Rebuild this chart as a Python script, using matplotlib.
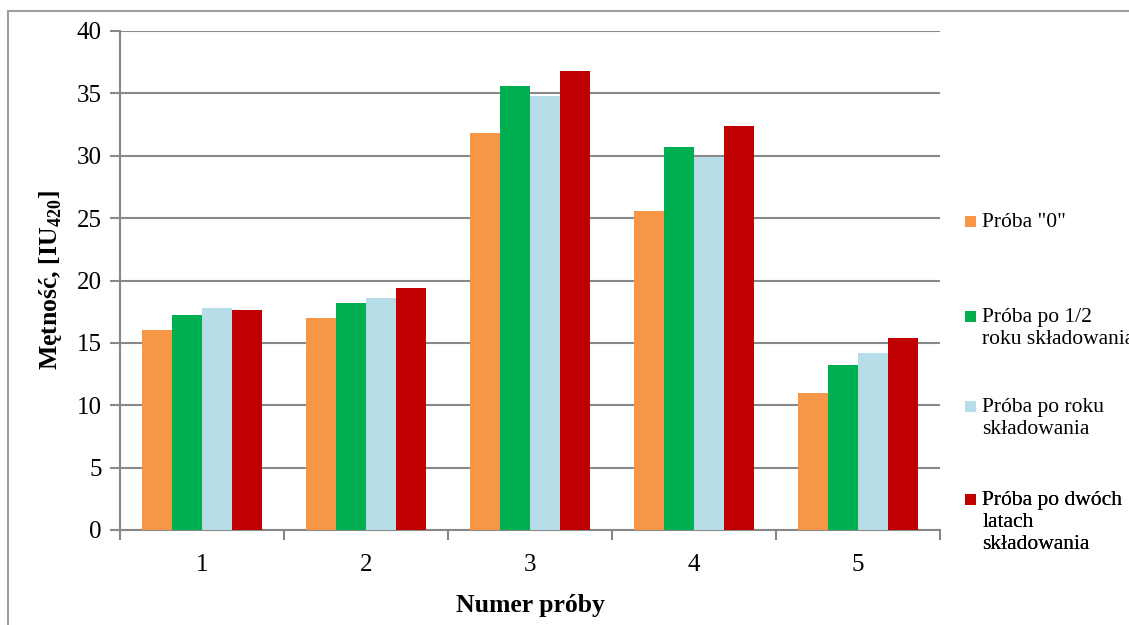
import matplotlib
matplotlib.use("Agg")
import matplotlib.pyplot as plt
from matplotlib.patches import Rectangle
from matplotlib.legend_handler import HandlerPatch
import numpy as np

plt.rcParams['font.family'] = ['Liberation Serif', 'DejaVu Serif']
plt.rcParams['mathtext.fontset'] = 'custom'
plt.rcParams['mathtext.rm'] = 'Liberation Serif'
plt.rcParams['mathtext.bf'] = 'Liberation Serif:bold'

samples = ['1', '2', '3', '4', '5']
series_names = ['Próba "0"', 'Próba po 1/2\nroku składowania',
                'Próba po roku\nskładowania', 'Próba po dwóch\nlatach\nskładowania']
proba_0 = [16.0, 17.0, 31.8, 25.6, 11.0]
po_pol_roku = [17.2, 18.2, 35.6, 30.7, 13.2]
po_roku = [17.8, 18.6, 34.8, 29.9, 14.2]
po_dwoch_latach = [17.6, 19.4, 36.8, 32.4, 15.4]
series = [proba_0, po_pol_roku, po_roku, po_dwoch_latach]
colors = ['#F79646', '#00B050', '#B7DDE8', '#C00000']

W, H = 1129, 625
fig = plt.figure(figsize=(W / 100, H / 100), dpi=100)
ax = fig.add_axes([120 / W, 1 - 530 / H, 820 / W, 499 / H])

# outer frame like the exported Excel chart
fig.patches.append(Rectangle((8 / W, -0.1), 1.2, (H - 11) / H + 0.1,
                             transform=fig.transFigure, fill=False,
                             edgecolor='#A0A0A0', linewidth=1.5))

x = np.arange(len(samples))
bw = 0.183
bars = []
for i, (vals, name, c) in enumerate(zip(series, series_names, colors)):
    bars.append(ax.bar(x + (i - 1.5) * bw, vals, bw, color=c, label=name, zorder=3))

ax.set_xlim(-0.5, len(samples) - 0.5)
ax.set_ylim(0, 40)
ax.set_yticks(range(0, 41, 5))
ax.set_xticks(x)
ax.set_xticklabels(samples)
ax.set_xticks(np.arange(-0.5, len(samples), 1), minor=True)
ax.tick_params(axis='x', which='major', length=0, labelsize=18, pad=17)
ax.tick_params(axis='x', which='minor', length=7, width=1.5, color='#888888', direction='out')
ax.tick_params(axis='y', length=7, width=1.5, color='#888888', labelsize=18, pad=6)
ax.yaxis.grid(True, color='#888888', linewidth=1.5, zorder=0)
ax.set_axisbelow(True)
for s in ['top', 'right']:
    ax.spines[s].set_visible(False)
for s in ['left', 'bottom']:
    ax.spines[s].set_color('#888888')
    ax.spines[s].set_linewidth(1.5)

ax.set_xlabel('Numer próby', fontsize=18.5, fontweight='bold', labelpad=13)
ax.set_ylabel(r'Mętność, [IU$_\mathbf{420}$]', fontsize=18.5, fontweight='bold', labelpad=9)


# small square marker centred on the first text line
def square(legend, orig_handle, xdescent, ydescent, width, height, fontsize):
    s = 0.5 * fontsize
    return Rectangle((-xdescent + width - s, -ydescent + height - 0.38 * fontsize - s / 2), s, s)


lfs = 15.5
first_line_y = [222, 317, 407, 500]
for b, name, yc in zip(bars, series_names, first_line_y):
    leg = ax.legend(handles=[b[0]], labels=[name], loc='upper left',
                    bbox_to_anchor=(963 / W, 1 - (yc - 9) / H),
                    bbox_transform=fig.transFigure, frameon=False, fontsize=lfs,
                    handlelength=0.6, handleheight=1.2, handletextpad=0.3,
                    borderpad=0, borderaxespad=0,
                    handler_map={Rectangle: HandlerPatch(patch_func=square)})
    for t in leg.get_texts():
        t.set_linespacing(1.2)
    for col in leg._legend_handle_box.get_children():
        for item in col.get_children():
            item.align = 'top'
    ax.add_artist(leg)

fig.savefig('out.png', dpi=100)
